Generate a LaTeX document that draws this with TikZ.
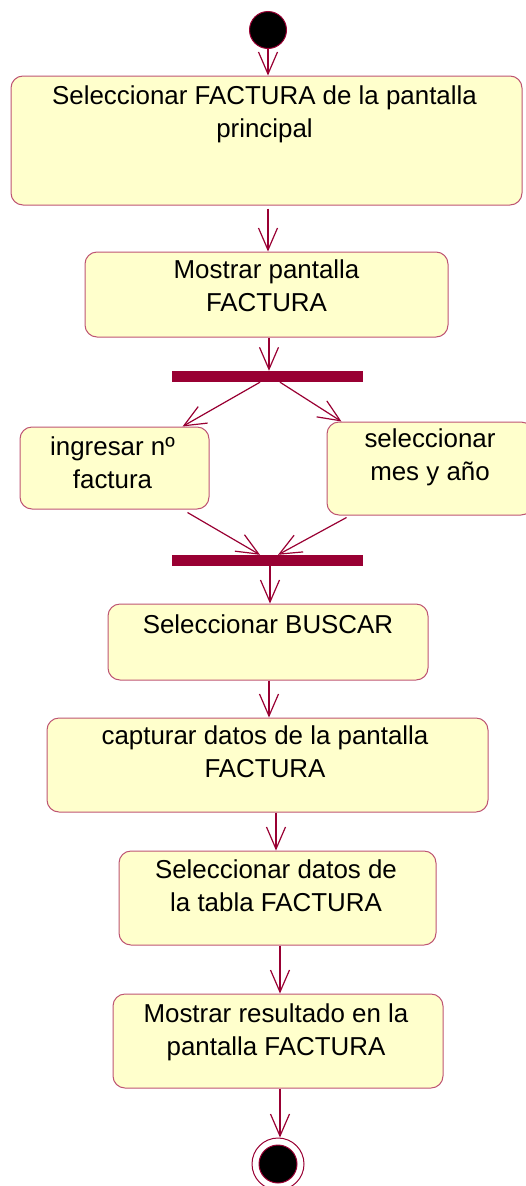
\documentclass[tikz,border=0pt]{standalone}
\usepackage{fontspec}
\setmainfont{Liberation Sans}
\usetikzlibrary{arrows.meta,positioning}
\definecolor{flowRed}{RGB}{153,0,51}
\definecolor{boxEdge}{RGB}{190,85,115}
\definecolor{boxFill}{RGB}{255,255,204}

\begin{document}
\begin{tikzpicture}[x=1pt,y=-1pt,
  act/.style={rectangle,rounded corners=12pt,draw=boxEdge,fill=boxFill,line width=1pt,inner sep=0pt},
  acttext/.style={anchor=north,align=center,inner sep=0pt,font=\fontsize{25.9}{33}\selectfont},
  bar/.style={rectangle,fill=flowRed,minimum width=191pt,minimum height=11pt,inner sep=0pt},
  flow/.style={-{Straight Barb[length=22pt,width=19pt]},line width=1.2pt,flowRed},
  startdot/.style={circle,fill=black,draw=flowRed,line width=1pt,minimum size=37pt,inner sep=0pt},
  endring/.style={circle,draw=flowRed,line width=1pt,minimum size=52pt,inner sep=0pt},
  enddot/.style={circle,fill=black,draw=flowRed,line width=1pt,minimum size=38pt,inner sep=0pt}
]
\useasboundingbox (0,0) rectangle (525,1186);

\node[startdot](start) at (268,30) {};

\node[act,minimum width=511pt,minimum height=129pt](b1) at (266.5,140.5) {};
\node[acttext](t1) at (264.5,85.5) {Seleccionar FACTURA de la pantalla\\principal};

\node[act,minimum width=363pt,minimum height=85pt](b2) at (266.5,294.5) {};
\node[acttext](t2) at (266.5,259.5) {Mostrar pantalla\\FACTURA};

\node[bar](fork) at (267.5,376.5) {};

\node[act,minimum width=189pt,minimum height=82pt](ing) at (114.5,468) {};
\node[acttext](t3) at (112.5,436.5) {ingresar nº\\factura};

\node[act,minimum width=206pt,minimum height=93pt](mes) at (430,468.5) {};
\node[acttext](t4) at (430,428.5) {seleccionar\\mes y año};

\node[bar](join) at (267.5,560.5) {};

\node[act,minimum width=320pt,minimum height=76pt](b5) at (268,642) {};
\node[acttext](t5) at (268,614.5) {Seleccionar BUSCAR};

\node[act,minimum width=441pt,minimum height=94pt](b6) at (267.5,765) {};
\node[acttext](t6) at (265,726) {capturar datos de la pantalla\\FACTURA};

\node[act,minimum width=317pt,minimum height=94pt](b7) at (277.5,898) {};
\node[acttext](t7) at (276,860) {Seleccionar datos de\\la tabla FACTURA};

\node[act,minimum width=330pt,minimum height=94pt](b8) at (278,1041) {};
\node[acttext](t8) at (276,1004) {Mostrar resultado en la\\pantalla FACTURA};

\node[endring](stop) at (278,1164) {};
\node[enddot](stopdot) at (278,1164) {};

% transitions
\draw[flow](start) -- (start |- b1.north);
\draw[flow]([xshift=1.5pt,yshift=-3pt]b1.south) -- ([xshift=1.5pt]b2.north);
\draw[flow]([xshift=2.5pt]b2.south) -- ([xshift=2.5pt]b2.south |- fork.north);
\draw[flow]([xshift=-7.5pt]fork.south) -- ([xshift=-27pt]ing.north east);
\draw[flow]([xshift=12.5pt]fork.south) -- ([xshift=15pt]mes.north west);
\draw[flow]([xshift=-22pt,yshift=-3pt]ing.south east) -- ([xshift=-7.5pt]join.north);
\draw[flow]([xshift=20pt,yshift=-2pt]mes.south west) -- ([xshift=10.5pt]join.north);
\draw[flow]([xshift=2.5pt]join.south) -- ([xshift=2.5pt]join.south |- b5.north);
\draw[flow]([xshift=1pt]b5.south) -- ([xshift=1pt]b5.south |- b6.north);
\draw[flow]([xshift=8.5pt]b6.south) -- ([xshift=8.5pt]b6.south |- b7.north);
\draw[flow]([xshift=2.5pt]b7.south) -- ([xshift=2.5pt]b7.south |- b8.north);
\draw[flow]([xshift=2pt]b8.south) -- ([xshift=2pt]b8.south |- stop.north);
\end{tikzpicture}
\end{document}
